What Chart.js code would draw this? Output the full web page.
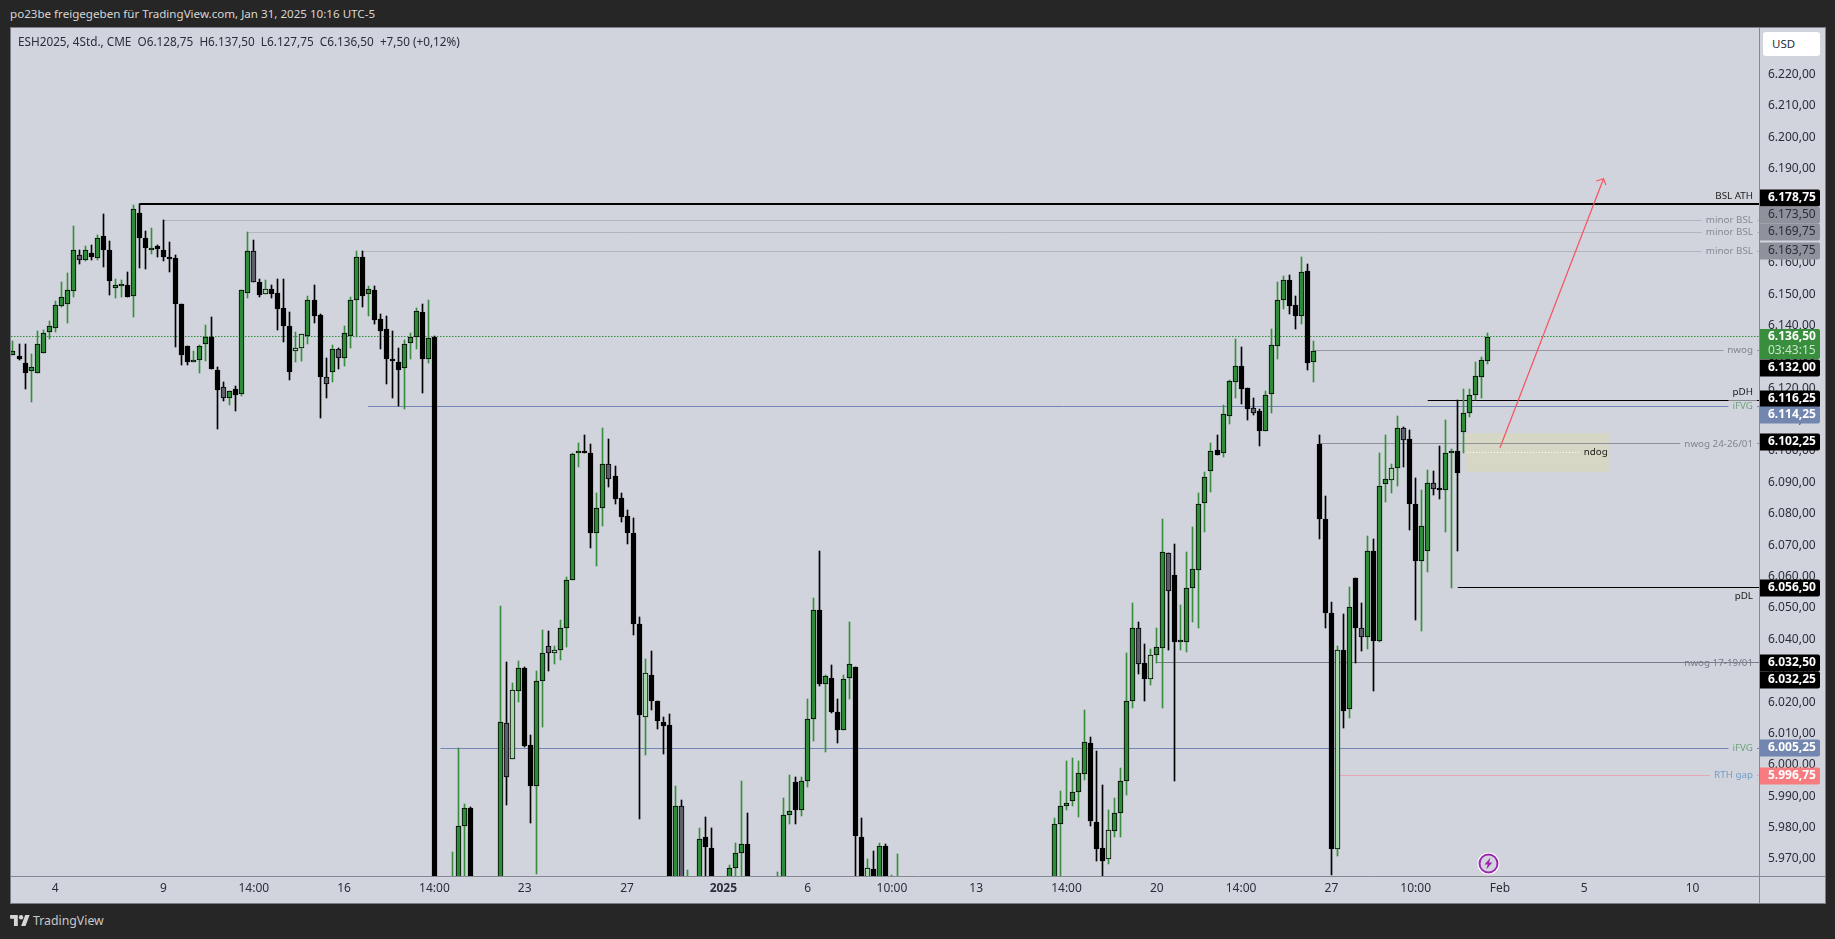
<!DOCTYPE html>
<html lang="de">
<head>
    <meta charset="UTF-8">
    <title>ESH2025 - TradingView</title>
    <script src="https://cdn.jsdelivr.net/npm/chart.js"></script>
    <style>
        html, body { margin: 0; height: 100%; background: #262626; overflow: hidden; }
        body { font-family: "Noto Sans", sans-serif; }
        #chart { position: absolute; left: 10px; top: 27px; background: #d1d4dc; }
        .frame { position: absolute; left: 10px; top: 27px; width: 1816px; height: 877px; box-sizing: border-box; border: 1px solid #7c7f87; pointer-events: none; }
        .header { position: absolute; left: 10px; top: 6px; color: #d6d6d6; font-size: 11.6px; line-height: 16px; white-space: pre; }
        .legend { position: absolute; left: 18px; top: 33px; color: #2a2e39; font-size: 11.75px; line-height: 16px; white-space: pre; }
        .usd { position: absolute; left: 1763px; top: 32px; width: 57px; height: 24px; background: #fff; border-radius: 3px; color: #2a2e39; font-size: 11.5px; line-height: 24px; text-indent: 9px; }
        .logo { position: absolute; left: 10px; top: 915px; }
        .brand { position: absolute; left: 33px; top: 912px; color: #c8c8c8; font-size: 12.3px; line-height: 18px; }
        .bolt { position: absolute; left: 1477px; top: 852px; }
    </style>
</head>
<body>
<canvas id="chart" width="1816" height="877"></canvas>
<div class="frame"></div>
<div class="header">po23be freigegeben für TradingView.com, Jan 31, 2025 10:16 UTC-5</div>
<div class="legend">ESH2025, 4Std., CME  O6.128,75  H6.137,50  L6.127,75  C6.136,50  +7,50 (+0,12%)</div>
<div class="usd">USD</div>
<svg class="logo" width="20" height="11" viewBox="0 0 36 20"><path fill="#d6d6d6" d="M14 20H7V7H0V0h14zM28 20h-8l7.5-20h8z"/><circle fill="#d6d6d6" cx="20" cy="4" r="4"/></svg>
<div class="brand">TradingView</div>
<svg class="bolt" width="23" height="23" viewBox="0 0 23 23">
    <circle cx="11.5" cy="11.5" r="11" fill="#fff"/>
    <circle cx="11.5" cy="11.5" r="9" fill="#d1d4dc" stroke="#9c27b0" stroke-width="2"/>
    <path fill="#9c27b0" d="M13.5 5.5 7.5 12.5h3.2l-1.4 5 6-7h-3.2z"/>
</svg>

<script>
    const opens = [
        6130.5,6130.25,6128,6125.5,6124.75,6131.25,6138,6139.25,6146.25,6146.75,
        6151,6162.5,6161,6163.25,6161.5,6168.5,6164,6152,6152.75,6153,
        6149.5,6175.75,6168,6164,6165.25,6164,6161.75,6161.5,6146.75,6133.5,
        6128.25,6129,6134,6136.5,6125.75,6120.5,6117,6119.75,6118.25,6150.5,
        6163.75,6153.75,6150,6151.5,6150.25,6145.5,6139.75,6131.75,6132.75,6136.75,
        6148,6143.25,6123.75,6125.25,6132.5,6129.75,6136.75,6148,6161.75,6150,
        6151.25,6142,6138.75,6129.25,6128.5,6126.5,6134.5,6136.25,6144.25,6129.25,
        6136.25,null,null,5950,5955,5980.5,5986.25,null,null,null,
        null,5950,6013.25,6001.75,6023.5,6031,6006.25,5993.25,6026.75,6037.75,
        6035.5,6036.75,6043.75,6059,6099.25,6099.5,6099.25,6073.75,6081.75,6095.75,
        6092,6085,6079.25,6073.75,6044.75,6015.25,6028.75,6020.5,6013.75,6012.75,
        5950,5987,5950,null,5950,5977,5973.5,null,null,5950,
        5967,5972,5974.75,null,null,null,null,5950,5950,5984,
        5994.5,5985.75,5994.75,6014.75,6049.25,6025.75,6027.75,6017,6011.25,6027.75,
        6031.25,5977,5950,5966.75,5950,5974.25,5950,5950,null,null,
        null,null,null,null,null,null,null,null,null,null,
        null,null,null,null,null,null,null,null,null,null,
        null,null,null,5950,5981,5987,5988.5,5991.25,5997,6007,
        5981.75,5973.5,5970,5979,5984.75,5994.75,6020.25,6043.75,6032.5,6027.5,
        6035,6037.25,6067.5,6060.5,6039,6039,6056.25,6062.25,6083.5,6093.75,
        6100.25,6099.25,6111.25,6122,6127,6120,6113.75,6112.75,6106.5,6118.25,
        6133.5,6148,6154.5,6146.5,6143,6157.25,6128.25,6102.25,6078.5,6048.25,
        5973.25,6036.75,6017.75,6059.5,6043.75,6040.75,6068,6039.5,6089.5,6090.75,
        6094.5,6107.25,6103.75,6083,6065,6068.25,6089.75,6087.75,6087.5,6099.25,
        6100,6106,6112,6117.75,6123.75,6128.75
    ];
    const highs = [
        6135,6134,6134.25,6131,6138.25,6138.5,6141.5,6147.75,6154,6156.75,
        6171.75,6164,6165.25,6165.75,6168.75,6175.5,6167,6154.75,6154.5,6157,
        6178.5,6178.75,6170,6171,6165.75,6173.5,6166.5,6162.5,6146.75,6133.5,
        6132,6133.75,6140.25,6142.75,6126.75,6122,6119.25,6120.75,6151.25,6169.75,
        6167.25,6154.75,6154.5,6153,6154.75,6154.75,6144.25,6138,6137.25,6149.5,
        6153,6143.75,6129.5,6133.75,6133,6139.75,6149,6163.75,6163.75,6152.5,
        6152.5,6143.75,6143,6138.25,6133,6135.25,6137.5,6145.5,6147,6148,
        6136.75,null,null,5972.25,6005.25,5987.5,5986.5,null,null,null,
        null,6050.75,6032.75,6026,6033.25,6031.25,6009.5,6030,6043,6042.75,
        6038,6046.25,6060,6099.25,6102.5,6105,6102.25,6086.5,6107.5,6104,
        6095.25,6086.5,6081.25,6078.75,6047,6033.75,6036.25,6020.5,6015.25,6016.25,
        5993.25,5988.75,5966.5,null,5979.75,5983.5,5980,null,null,5968,
        5975,5995,5984.75,null,null,null,null,5965.75,5989.5,5996.75,
        5996,5996,6021,6053.25,6068.25,6028.75,6031.75,6021,6028.75,6045.5,
        6031.25,5983,5970,5972.5,5975,5974.75,5965,5971.75,null,null,
        null,null,null,null,null,null,null,null,null,null,
        null,null,null,null,null,null,null,null,null,null,
        null,null,null,5983,5991.75,6001.25,6002.25,6001.25,6017.5,6009,
        6004.5,5993.5,5985.5,5989.5,5999,6035.75,6051.5,6045.5,6038.5,6037,
        6043.5,6078.5,6067.5,6070.5,6051,6067.75,6075.75,6086.75,6093.25,6102.5,
        6105,6114.75,6122.75,6135.75,6133.25,6120,6117,6113.5,6119,6139,
        6153.75,6155.75,6156,6149.5,6162,6159.5,6135,6105,6085.75,6051.75,
        6038,6048,6056.75,6059.5,6051.5,6073,6072,6099.25,6105.25,6095.75,
        6111.25,6107.75,6106.75,6091.5,6087.5,6094,6093.75,6101.5,6110,6100.75,
        6116.25,6119.75,6119.75,6128.25,6130,6137.5
    ];
    const lows = [
        6130.5,6129,6119.75,6115.75,6124.75,6131.25,6135.75,6138,6146,6140.75,
        6149,6159.5,6160.5,6161,6161,6158.75,6149.75,6148.75,6149,6149,
        6142.75,6158.25,6158,6162.75,6161.75,6160.5,6157,6133.25,6127.5,6127.5,
        6128.25,6125,6128.75,6126,6107,6116,6114.75,6112.75,6117.5,6148.75,
        6153.75,6149,6150,6148.75,6138.5,6134.75,6122.75,6128.25,6128.75,6134,
        6140.75,6110.5,6117,6122,6126.25,6127,6133,6136.5,6146,6143,
        6140.5,6132.5,6121.25,6117,6114.25,6113.5,6129.25,6132.5,6118.5,6128,
        5950,null,null,5945,5950,5960,5950,null,null,null,
        null,5945,5987.25,6001.75,6020,6005.75,5981.5,5965.25,6012,6030,
        6032.25,6033.5,6037.5,6059,6095,6099.25,6069,6063.25,6076,6088.5,
        6083,6077.5,6070.25,6041.25,5982.75,6003,6017.5,6011.5,6003.5,5950,
        5945,5950,5945,null,5945,5960,5950,null,null,5945,
        5960,5960,5950,null,null,null,null,5945,5945,5981,
        5981,5983.75,5993,6007.5,6025.25,6004.25,6016.5,6007,6011.25,6021,
        5960,5950,5945,5950,5945,5950,5945,5945,null,null,
        null,null,null,null,null,null,null,null,null,null,
        null,null,null,null,null,null,null,null,null,null,
        null,null,null,5945,5960,5985.5,5986.75,5983.25,5995.25,5980.5,
        5969.25,5960,5968.25,5977,5977,5990.25,6018,6029,6020.25,6025.5,
        6032.5,6018.25,6036.5,5994.75,6036.5,6036,6045.5,6043.75,6074.25,6087,
        6098.75,6098,6108.75,6117,6115,6110,6111.5,6101.75,6106.25,6112.25,
        6129.25,6145.25,6143.75,6139,6140.5,6125.75,6122,6072,6043.5,5964.75,
        5971,6011.75,6015,6032.5,6036.25,6037,6023.5,6039,6083.75,6086.75,
        6089,6095,6074.75,6046.25,6042.5,6061.5,6086,6084.75,6074.25,6056.5,
        6068,6099.5,6111,6116.25,6117,6127.75
    ];
    const closes = [
        6131.75,6129.25,6124.75,6126.75,6134.25,6137.5,6139.75,6146.5,6149,6151.25,
        6164,6161,6164,6162,6168,6164,6154.25,6153,6153,6149,
        6177.25,6167.75,6164.75,6164.5,6164.25,6162,6161.25,6147,6130.5,6128.25,
        6128.5,6133.5,6136.25,6126,6119.5,6117,6119.25,6118,6151.25,6163.75,
        6153.75,6149.75,6151.75,6150,6145.25,6140,6125.25,6132.75,6137.25,6148,
        6143,6123.75,6121.25,6132.5,6129.75,6137.5,6148,6161.75,6149.5,6151.5,
        6141.75,6138.25,6129.25,6128.75,6125.75,6134.25,6136.25,6144.5,6129.25,6136,
        5955,null,null,5958,5980.5,5986.25,5955,null,null,null,
        null,6013.5,5996.25,6024,6030.75,6006,5993.25,6026.75,6035.75,6035.5,
        6036.75,6043.75,6058.75,6099,6099.5,6099.25,6073.75,6082,6095.75,6091.25,
        6084.75,6079,6073.75,6044.75,6015.75,6029.25,6020.25,6014,6012.5,5955,
        5987,5955,5958,null,5976.5,5973.75,5955,null,null,5967,
        5972,5974.75,5955,null,null,null,null,5958,5984,5985.25,
        5985.75,5994.75,6014.75,6049.25,6025.75,6028.25,6017,6011.25,6027.5,6032,
        5977.25,5955,5967,5955,5974.25,5955,5958,5958,null,null,
        null,null,null,null,null,null,null,null,null,null,
        null,null,null,null,null,null,null,null,null,null,
        null,null,null,5981,5986.75,5987.75,5991.25,5997.25,6007.25,5982,
        5973.25,5969.5,5979.25,5984.5,5994.75,6020.5,6043.75,6032.25,6027.25,6035,
        6037.5,6067.75,6055.25,6039,6039.5,6056.25,6062.5,6083.25,6091.75,6100,
        6098.75,6111.75,6122.25,6127,6119.75,6113.5,6112.25,6106.5,6118,6133.75,
        6148.25,6154.5,6146.25,6143,6157,6128,6131.75,6078.5,6048.25,5973.25,
        6036.75,6017.25,6050.25,6043.75,6040.75,6068,6039.5,6089,6091.25,6094.5,
        6107.25,6103.5,6083,6065,6076.25,6089.75,6088,6087.5,6099.25,6100,
        6093,6112,6117.75,6124,6129,6136.5
    ];
    // the few candles tradingview paints grey / pale instead of black / green
    const greyCandles = [11, 35, 40, 52, 54, 82, 89, 99, 111, 187, 192, 206, 224, 231, 236];
    const paleCandles = [42, 47, 48, 83, 90, 105, 142, 182, 189, 220, 229];

    const priceTicks = [6220,6210,6200,6190,6180,6170,6160,6150,6140,6130,6120,6110,6100,6090,6080,6070,6060,6050,6040,6030,6020,6010,6000,5990,5980,5970];
    const timeTickBars = [7, 25, 40, 55, 70, 85, 102, 118, 132, 146, 160, 175, 190, 204, 219, 233, 247, 261, 279];
    const timeTickLabels = ['4', '9', '14:00', '16', '14:00', '23', '27', '2025', '6', '10:00', '13', '14:00', '20', '14:00', '27', '10:00', 'Feb', '5', '10'];

    const levelPrices = [6178.75, 6173.5, 6169.75, 6163.75, 6132, 6116.25, 6114.25, 6102.25, 6056.5, 6032.5, 6032.25, 6005.25, 5996.75];
    const levelStartBars = [21, 25, 39, 58, 216, 235, 59, 217, 240, 190, 190, 71, 220];
    const levelLabels = ['BSL ATH', 'minor BSL', 'minor BSL', 'minor BSL', 'nwog', 'pDH', 'iFVG', 'nwog 24-26/01', 'pDL', 'nwog 17-19/01', '', 'iFVG', 'RTH gap'];

    const lastPrice = 6136.5;
    const countdown = '03:43:15';
    const zonePrices = [6105.66, 6093.4];
    const zoneBars = [241.2, 265.1];
    const ndogPrice = 6099.6;
    const ndogBars = [241.5, 260.1];
    const arrowBars = [247, 264.2];
    const arrowPrices = [6101.07, 6186.8];
    const arrowHeadBars = [263, 264.2, 264.6];
    const arrowHeadPrices = [6186.06, 6186.8, 6184.8];

    const GREEN = '#2e8b37', WICK_GREEN = '#388e3c', GREY = '#5d606b', PALE = '#a5d6a7';
    // line colour, width, label colour, badge colour, badge text, badge shift, label shift, patch behind label
    const levelStyles = [
        { line: '#000000', width: 2, text: '#1a1a1a', badge: '#000000', badgeText: '#ffffff', bold: true, shift: -5.5, labelShift: -8, patch: false },
        { line: '#b2b5be', width: 1, text: '#878a93', badge: '#8f929b', badgeText: '#2a2e39', shift: -5.5, labelShift: 0, patch: true },
        { line: '#b2b5be', width: 1, text: '#878a93', badge: '#8f929b', badgeText: '#2a2e39', shift: 0, labelShift: 0, patch: true },
        { line: '#b2b5be', width: 1, text: '#878a93', badge: '#8f929b', badgeText: '#2a2e39', shift: 0, labelShift: 0, patch: true },
        { line: '#9598a1', width: 1, text: '#82858e', badge: '#000000', badgeText: '#ffffff', bold: true, shift: 17.5, labelShift: 0, patch: true },
        { line: '#000000', width: 1, text: '#1a1a1a', badge: '#000000', badgeText: '#ffffff', bold: true, shift: -1.5, labelShift: -8, patch: false },
        { line: '#7286b5', width: 1, text: '#6ea57a', badge: '#7286b0', badgeText: '#ffffff', bold: true, shift: 9, labelShift: 0, patch: true },
        { line: '#8e9099', width: 1, text: '#82858e', badge: '#000000', badgeText: '#ffffff', bold: true, shift: -1.5, labelShift: 0, patch: true },
        { line: '#000000', width: 1, text: '#1a1a1a', badge: '#000000', badgeText: '#ffffff', bold: true, shift: 0, labelShift: 9, patch: false },
        { line: '#787b86', width: 1, text: '#787b86', badge: '#000000', badgeText: '#ffffff', bold: true, shift: 0, labelShift: 0, patch: false },
        { line: '#787b86', width: 1, text: '#787b86', badge: '#000000', badgeText: '#ffffff', bold: true, shift: 16.5, labelShift: 0, patch: false },
        { line: '#7286b5', width: 1, text: '#6ea57a', badge: '#7286b0', badgeText: '#ffffff', bold: true, shift: 0, labelShift: 0, patch: true },
        { line: '#e8a7b5', width: 1, text: '#6f9fc9', badge: '#f77c80', badgeText: '#ffffff', bold: true, shift: 1, labelShift: 0, patch: true }
    ];

    const FONT = '"Noto Sans", sans-serif';
    const X_MIN = -0.332, X_MAX = 290.03;
    const formatPrice = v => v.toLocaleString('de-DE', { minimumFractionDigits: 2, maximumFractionDigits: 2 });

    const visible = opens.map((o, i) => i).filter(i => opens[i] !== null);
    const isUp = i => closes[i] >= opens[i];
    const wickColor = i => isUp(i) ? WICK_GREEN : '#000000';
    const bodyColor = i => {
        if (greyCandles.includes(i)) return GREY;
        if (paleCandles.includes(i)) return PALE;
        return isUp(i) ? GREEN : '#000000';
    };

    // 6032.25 sits on the same pixel row as 6032.50, so only the badge of it is shown
    const levelSets = levelPrices.map((price, n) => ({
        type: 'line',
        order: 5,
        snapLine: true,
        borderColor: levelStyles[n].line,
        borderWidth: levelStyles[n].width,
        pointRadius: 0,
        data: levelLabels[n] ? [{ x: levelStartBars[n], y: price }, { x: X_MAX, y: price }] : []
    }));

    // price badges, level captions and the axis lines are drawn on top through the y scale
    const overlay = {
        id: 'overlay',
        afterDatasetsUpdate(chart) {
            chart.data.datasets.forEach((set, n) => {
                const points = chart.getDatasetMeta(n).data;
                if (set.type === 'line' && set.snapLine) {
                    points.forEach(p => { p.y = Math.floor(p.y) + (set.borderWidth % 2 ? 0.5 : 1); });
                } else if (set.type !== 'line') {
                    points.forEach(el => {
                        el.x = Math.floor(el.x) + 0.5;
                        el.y = Math.round(el.y);
                        el.base = Math.round(el.base);
                    });
                }
            });
        },
        afterDraw(chart) {
            const ctx = chart.ctx, area = chart.chartArea, y = chart.scales.y;
            ctx.save();

            ctx.strokeStyle = '#868993';
            ctx.lineWidth = 1;
            ctx.beginPath();
            ctx.moveTo(area.right + 0.5, area.top);
            ctx.lineTo(area.right + 0.5, chart.height);
            ctx.moveTo(area.left, area.bottom + 0.5);
            ctx.lineTo(chart.width, area.bottom + 0.5);
            ctx.stroke();

            ctx.textBaseline = 'middle';

            // captions at the right end of the levels
            ctx.font = '9.8px ' + FONT;
            ctx.textAlign = 'right';
            levelLabels.forEach((text, n) => {
                if (!text) return;
                const st = levelStyles[n];
                const py = y.getPixelForValue(levelPrices[n]) + st.labelShift;
                if (st.patch) {
                    ctx.fillStyle = '#d1d4dc';
                    ctx.fillRect(area.right - 6 - ctx.measureText(text).width - 4, py - 6, ctx.measureText(text).width + 8, 12);
                }
                ctx.fillStyle = st.text;
                ctx.fillText(text, area.right - 6, py);
            });
            ctx.fillStyle = '#1a1a1a';
            ctx.textAlign = 'center';
            const zoneX = chart.scales.x.getPixelForValue(262.9);
            ctx.fillText('ndog', zoneX, y.getPixelForValue(ndogPrice));

            // badges
            const badgeX = area.right + 1, badgeW = 60, textX = area.right + 9;
            ctx.textAlign = 'left';
            levelPrices.forEach((price, n) => {
                const st = levelStyles[n];
                const py = Math.round(y.getPixelForValue(price) + st.shift);
                ctx.fillStyle = st.badge;
                ctx.beginPath();
                ctx.roundRect(badgeX, py - 8.5, badgeW, 17, [0, 2, 2, 0]);
                ctx.fill();
                ctx.fillStyle = st.badgeText;
                ctx.font = (st.bold ? 'bold ' : '') + '12px ' + FONT;
                ctx.fillText(formatPrice(price), textX, py);
            });

            // last price with the candle countdown below it
            const lastY = y.getPixelForValue(lastPrice);
            ctx.fillStyle = '#388e3c';
            ctx.beginPath();
            ctx.roundRect(badgeX, lastY - 7.5, badgeW, 30, [0, 2, 2, 0]);
            ctx.fill();
            ctx.fillStyle = '#ffffff';
            ctx.font = 'bold 12px ' + FONT;
            ctx.fillText(formatPrice(lastPrice), textX, lastY);
            ctx.fillStyle = '#c8e6c9';
            ctx.font = '12px ' + FONT;
            ctx.fillText(countdown, textX, lastY + 14);

            ctx.restore();
        }
    };

    new Chart(document.getElementById('chart'), {
        type: 'bar',
        data: {
            datasets: [
                {
                    // ndog zone
                    type: 'line',
                    order: 6,
                    borderWidth: 0,
                    pointRadius: 0,
                    backgroundColor: '#d7d7c5',
                    fill: { value: zonePrices[1] },
                    data: zoneBars.map(b => ({ x: b, y: zonePrices[0] }))
                },
                {
                    // last price
                    type: 'line',
                    order: 5,
                    snapLine: true,
                    borderColor: '#2f9139',
                    borderWidth: 1,
                    borderDash: [1.5, 1.5],
                    pointRadius: 0,
                    data: [{ x: X_MIN, y: lastPrice }, { x: X_MAX, y: lastPrice }]
                },
                ...levelSets,
                {
                    type: 'line',
                    order: 5,
                    snapLine: true,
                    borderColor: '#ffffff',
                    borderWidth: 1,
                    borderDash: [1, 2],
                    pointRadius: 0,
                    data: ndogBars.map(b => ({ x: b, y: ndogPrice }))
                },
                {
                    label: 'wicks',
                    order: 3,
                    grouped: false,
                    barThickness: 1,
                    borderWidth: 0,
                    backgroundColor: visible.map(wickColor),
                    data: visible.map(i => ({ x: i, y: [lows[i], highs[i]] }))
                },
                {
                    label: 'ESH2025',
                    order: 2,
                    grouped: false,
                    barThickness: 5,
                    minBarLength: 2,
                    borderWidth: 1,
                    borderColor: '#000000',
                    borderSkipped: false,
                    backgroundColor: visible.map(bodyColor),
                    data: visible.map(i => ({ x: i, y: [opens[i], closes[i]] }))
                },
                {
                    type: 'line',
                    order: 1,
                    borderColor: '#f7525f',
                    borderWidth: 1.2,
                    pointRadius: 0,
                    data: arrowBars.map((b, n) => ({ x: b, y: arrowPrices[n] }))
                },
                {
                    type: 'line',
                    order: 1,
                    borderColor: '#f7525f',
                    borderWidth: 1.2,
                    pointRadius: 0,
                    data: arrowHeadBars.map((b, n) => ({ x: b, y: arrowHeadPrices[n] }))
                }
            ]
        },
        options: {
            responsive: false,
            animation: false,
            layout: { padding: { left: 1, top: 1 } },
            plugins: { legend: { display: false }, tooltip: { enabled: false } },
            scales: {
                x: {
                    type: 'linear',
                    offset: false,
                    min: X_MIN,
                    max: X_MAX,
                    grid: { display: false, drawTicks: false },
                    border: { display: false },
                    afterBuildTicks: s => { s.ticks = timeTickBars.map(v => ({ value: v })); },
                    afterFit: s => { s.height = 28; s.paddingLeft = 0; s.paddingRight = 0; },
                    ticks: {
                        autoSkip: false,
                        maxRotation: 0,
                        padding: 5,
                        color: '#2a2e39',
                        font: c => ({ family: FONT, size: 12, weight: c.tick && c.tick.value === 118 ? 'bold' : 'normal' }),
                        callback: v => timeTickLabels[timeTickBars.indexOf(v)]
                    }
                },
                y: {
                    position: 'right',
                    beginAtZero: false,
                    min: 5964.58,
                    max: 6234.82,
                    grid: { display: false, drawTicks: false },
                    border: { display: false },
                    afterBuildTicks: s => { s.ticks = priceTicks.map(v => ({ value: v })); },
                    afterFit: s => { s.width = 67; s.paddingTop = 0; s.paddingBottom = 0; },
                    ticks: {
                        autoSkip: false,
                        padding: 9,
                        color: '#2a2e39',
                        font: { family: FONT, size: 12 },
                        callback: v => formatPrice(v)
                    }
                }
            }
        },
        plugins: [overlay]
    });
</script>
</body>
</html>
